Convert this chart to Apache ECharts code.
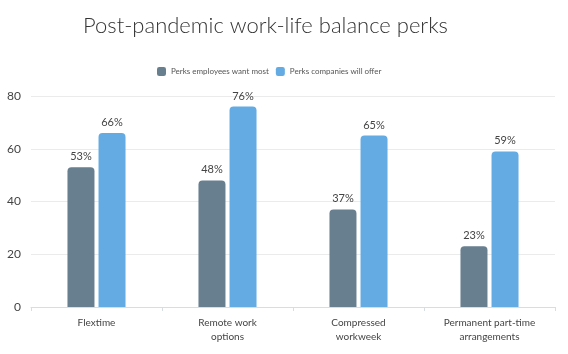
<!DOCTYPE html>
<html>
<head>
<meta charset="utf-8">
<script src="https://cdn.jsdelivr.net/npm/echarts@6/dist/echarts.min.js"></script>
<style>
  html, body { margin: 0; padding: 0; background: #fff; }
  #main { width: 568px; height: 354px; }
</style>
</head>
<body>
<div id="main"></div>
<script>
var categories = ['Flextime', 'Remote work\noptions', 'Compressed\nworkweek', 'Permanent part-time\narrangements'];
var employeesWant = [53, 48, 37, 23];
var companiesOffer = [66, 76, 65, 59];
var seriesNames = ['Perks employees want most', 'Perks companies will offer'];

var font = 'Lato';

var option = {
  backgroundColor: '#fff',
  title: {
    text: 'Post-pandemic work-life balance perks',
    left: 78,
    top: 10,
    textStyle: { fontFamily: font, fontWeight: 300, fontSize: 22, color: '#333' }
  },
  legend: {
    data: seriesNames,
    top: 62,
    left: 152,
    itemWidth: 9,
    itemHeight: 9,
    itemGap: 7,
    icon: 'roundRect',
    textStyle: { fontFamily: font, fontSize: 8, color: '#555' }
  },
  grid: { left: 31, right: 13, top: 96, bottom: 47 },
  xAxis: {
    type: 'category',
    data: categories,
    axisLine: { lineStyle: { color: '#d8dde3' } },
    axisTick: { show: true, length: 4, lineStyle: { color: '#d8dde3' } },
    axisLabel: { fontFamily: font, fontSize: 10, color: '#444', margin: 9, lineHeight: 14 }
  },
  yAxis: {
    type: 'value',
    min: 0,
    max: 80,
    interval: 20,
    axisLine: { show: false },
    axisTick: { show: false },
    splitLine: { lineStyle: { color: '#ebebeb' } },
    axisLabel: { fontFamily: font, fontSize: 12, color: '#444', margin: 10 }
  },
  series: [
    {
      name: seriesNames[0],
      type: 'bar',
      data: employeesWant,
      barWidth: 27,
      barGap: '15%',
      itemStyle: { color: '#687f8f', borderRadius: [4, 4, 0, 0] },
      label: { show: true, position: 'top', formatter: '{c}%', fontFamily: font, fontSize: 11, color: '#444', distance: 5 }
    },
    {
      name: seriesNames[1],
      type: 'bar',
      data: companiesOffer,
      barWidth: 27,
      itemStyle: { color: '#64abe3', borderRadius: [4, 4, 0, 0] },
      label: { show: true, position: 'top', formatter: '{c}%', fontFamily: font, fontSize: 11, color: '#444', distance: 5 }
    }
  ]
};

var chart = echarts.init(document.getElementById('main'));
chart.setOption(option);
</script>
</body>
</html>
